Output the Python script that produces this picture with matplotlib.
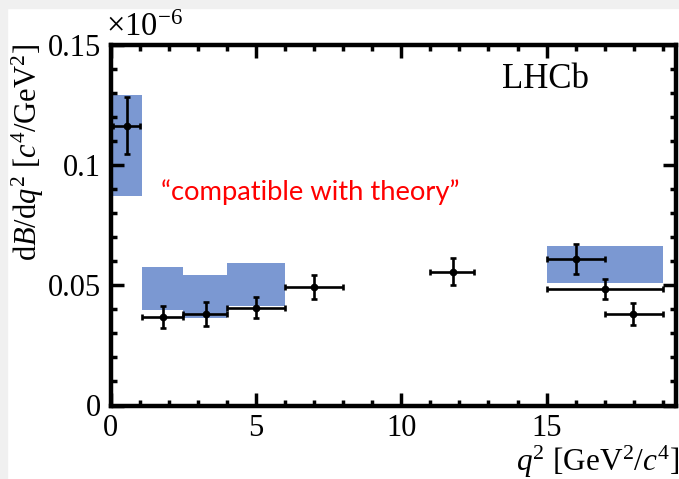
import matplotlib
matplotlib.use('Agg')
import matplotlib.pyplot as plt
import numpy as np
from matplotlib.ticker import MultipleLocator, FuncFormatter
from matplotlib.patches import Rectangle

plt.rcParams['font.family'] = 'Liberation Serif'
plt.rcParams['mathtext.fontset'] = 'custom'
plt.rcParams['mathtext.rm'] = 'Liberation Serif'
plt.rcParams['mathtext.it'] = 'Liberation Serif:italic'

# measured differential branching fraction, units of 1e-6 c^4/GeV^2
q2_lo = np.array([0.1, 1.1, 2.5, 4.0, 6.0, 11.0, 15.0, 15.0, 17.0])
q2_hi = np.array([1.0, 2.5, 4.0, 6.0, 8.0, 12.5, 17.0, 19.0, 19.0])
q2_mid = np.array([0.56, 1.81, 3.28, 5.0, 7.0, 11.78, 16.0, 17.0, 17.97])
dbdq2 = np.array([0.1164, 0.0368, 0.0381, 0.0406, 0.0493, 0.0556, 0.0610, 0.0485, 0.0381])
dbdq2_err = np.array([0.0118, 0.0045, 0.0050, 0.0044, 0.0050, 0.0056, 0.0062, 0.0042, 0.0044])

# SM prediction bands
th_lo = np.array([0.1, 1.1, 2.5, 4.0, 15.0])
th_hi = np.array([1.1, 2.5, 4.0, 6.0, 19.0])
th_min = np.array([0.0872, 0.0397, 0.0364, 0.0414, 0.0510])
th_max = np.array([0.1292, 0.0576, 0.0543, 0.0593, 0.0664])

W, H = 679, 479
fig = plt.figure(figsize=(W / 100, H / 100), dpi=100)
fig.patches.append(Rectangle((0, 1 - 8 / H), 1, 8 / H, transform=fig.transFigure,
                             color='#f0f0f0', zorder=-10))
fig.patches.append(Rectangle((0, 0), 7 / W, 1, transform=fig.transFigure,
                             color='#f0f0f0', zorder=-10))

ax = fig.add_axes([110.5 / W, 1 - 405.5 / H, (676 - 110.5) / W, (405.5 - 45) / H])

ax.bar(th_lo, th_max - th_min, width=th_hi - th_lo, bottom=th_min, align='edge',
       color='#7b98d2', linewidth=0, zorder=1)

ax.errorbar(q2_mid, dbdq2, xerr=[q2_mid - q2_lo, q2_hi - q2_mid], yerr=dbdq2_err,
            fmt='o', ms=4.5, color='k', elinewidth=1.9, capsize=2.0, capthick=1.9,
            zorder=3)

ax.set_xlim(0, 19.45)
ax.set_ylim(0, 0.15)
ax.xaxis.set_major_locator(MultipleLocator(5))
ax.xaxis.set_minor_locator(MultipleLocator(1))
ax.yaxis.set_major_locator(MultipleLocator(0.05))
ax.yaxis.set_minor_locator(MultipleLocator(0.01))
ax.yaxis.set_major_formatter(FuncFormatter(lambda v, p: '%g' % round(v, 3)))

for s in ax.spines.values():
    s.set_linewidth(3.2)
ax.tick_params(which='both', direction='in', top=True, right=True, width=2.5,
               labelsize=22)
ax.tick_params(which='major', length=9.5)
ax.tick_params(which='minor', length=4.5)
ax.tick_params(axis='x', pad=6)
ax.tick_params(axis='y', pad=7)

fig.text(106 / W, 1 - 36 / H, r'$\times10^{-6}$', fontsize=23.5, ha='left', va='baseline')
fig.text(28 / W, 1 - 44 / H, r'd$B$/d$q^2$ [$c^4$/GeV$^2$]', fontsize=22,
         rotation=90, ha='center', va='top')
fig.text(679 / W, 1 - 471 / H, r'$q^2$ [GeV$^2$/$c^4$]', fontsize=22.5,
         ha='right', va='baseline')
fig.text(502 / W, 1 - 88 / H, 'LHCb', fontsize=25, ha='left', va='baseline')
fig.text(161 / W, 1 - 200 / H, '\u201ccompatible with theory\u201d', fontsize=19.7,
         family='Lato', color='#ff0000', ha='left', va='baseline')

fig.savefig('out.png', dpi=100)
